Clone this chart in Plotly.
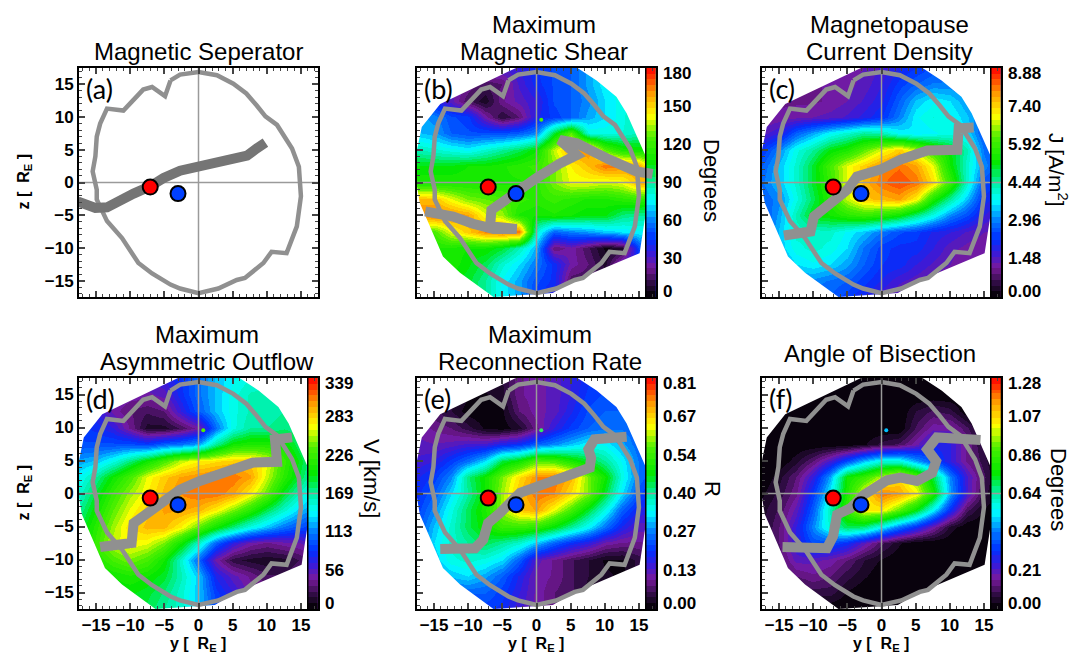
import numpy as np
import plotly.graph_objects as go

W, H = 1074, 656
grid_y = [-17.5,-15,-12.5,-10,-7.5,-5,-2.5,0,2.5,5,7.5,10,12.5,15,17.5]
grid_z_desc = [17.5,15,12.5,10,7.5,5,2.5,0,-2.5,-5,-7.5,-10,-12.5,-15,-17.5]

# Values, percent of each colour bar's full scale, rows top to bottom
shear_pct = [
[18,18,18,18,18,18,20,25,28,30,36,42,46,48,48],
[22,20,16,12,8,10,18,24,28,30,36,42,46,48,48],
[30,22,16,8,3,12,16,20,28,30,34,40,44,48,48],
[36,34,28,26,14,5,10,22,26,30,36,40,44,50,50],
[38,36,30,28,28,28,30,34,56,70,45,44,45,48,52],
[48,46,44,42,46,50,54,60,76,88,90,70,62,60,58],
[58,58,58,60,60,62,64,66,72,80,85,92,90,88,70],
[62,62,62,62,62,62,62,64,72,78,78,76,78,86,90],
[86,85,78,72,70,68,66,64,66,64,62,62,64,66,60],
[90,92,90,88,78,74,62,60,62,60,58,58,52,50,50],
[70,68,78,84,90,92,92,45,30,33,35,38,40,42,40],
[62,62,62,60,60,56,48,36,10,14,8,2,4,28,28],
[60,60,62,58,54,46,40,32,24,14,10,4,18,22,25],
[60,60,58,56,50,42,36,28,24,8,8,8,18,22,25],
[60,60,58,56,50,42,36,26,20,16,16,14,14,20,25]]
current_pct = [
[12,12,12,12,12,14,15,18,22,25,28,30,30,30,30],
[12,12,12,12,13,14,16,20,26,30,33,33,30,28,28],
[12,12,12,12,13,15,18,22,30,38,42,40,35,28,25],
[12,13,14,15,16,18,21,25,33,42,45,43,38,30,25],
[16,20,30,36,42,46,50,48,42,40,42,44,40,28,25],
[25,34,44,50,58,62,70,78,84,76,66,58,48,32,26],
[30,38,46,56,68,78,84,90,92,88,78,60,46,34,27],
[32,38,46,56,66,78,86,92,95,92,82,66,46,28,24],
[30,34,44,54,64,76,84,86,88,80,62,50,38,24,20],
[28,36,48,58,60,64,66,64,60,52,44,34,28,20,16],
[28,38,46,46,46,42,38,32,28,26,22,20,17,15,14],
[28,38,44,46,44,40,32,26,24,24,20,16,14,13,12],
[28,34,40,42,40,36,30,25,24,20,17,15,13,12,12],
[28,30,34,34,32,30,26,22,18,16,14,12,12,12,12],
[28,28,30,30,30,26,22,18,15,13,12,12,12,12,12]]
outflow_pct = [
[18,18,18,18,18,20,25,32,38,42,45,48,50,50,50],
[18,18,16,14,14,16,24,32,38,44,48,48,50,50,50],
[22,20,14,10,8,10,20,30,38,44,48,48,50,50,50],
[26,24,20,12,4,4,8,14,32,44,50,50,52,50,46],
[28,28,28,28,26,30,32,36,50,60,62,62,60,52,46],
[36,38,44,52,60,68,76,80,82,84,84,78,66,56,46],
[42,50,60,68,78,84,88,90,92,92,88,76,64,54,44],
[46,56,66,74,80,86,90,92,92,88,80,70,56,46,38],
[50,60,70,78,84,88,88,86,80,72,64,54,46,38,32],
[54,64,74,82,86,86,80,70,60,52,44,38,32,28,24],
[56,66,76,80,78,72,60,46,30,20,14,12,14,15,20],
[56,62,68,72,68,60,46,30,14,6,4,3,4,8,14],
[56,58,60,62,60,56,48,38,22,16,12,8,8,12,14],
[56,56,58,58,56,52,46,38,26,20,14,12,12,12,14],
[56,56,56,56,54,50,46,38,28,22,16,14,14,14,14]]
rate_pct = [
[5,5,5,5,5,5,12,14,16,20,24,26,28,28,28],
[5,5,5,3,2,4,12,14,16,20,26,28,28,28,28],
[10,8,5,1,0,2,10,14,16,22,28,30,30,30,28],
[14,12,10,6,2,1,4,12,20,26,30,32,32,30,28],
[16,15,16,18,18,22,24,30,34,38,42,42,36,30,28],
[18,20,26,32,40,55,60,70,68,62,56,50,42,32,26],
[22,26,34,52,60,72,82,90,92,86,72,60,44,32,26],
[24,30,40,50,60,74,85,92,90,82,72,56,40,28,22],
[26,34,44,54,62,74,84,88,78,68,56,44,30,22,20],
[28,38,46,54,60,66,66,64,58,50,42,32,22,16,16],
[30,40,46,50,54,50,46,38,30,24,20,14,12,12,14],
[30,38,44,46,44,40,30,16,12,8,5,2,2,6,10],
[30,34,38,40,36,30,22,14,12,8,5,3,2,6,8],
[28,30,30,30,30,26,20,14,10,8,4,3,2,5,5],
[28,28,28,28,26,24,18,14,10,6,4,4,4,5,5]]
bisection_pct = [
[0,0,0,0,0,0,0,0,0,0,0,0,0,0,0],
[0,0,0,0,0,0,0,0,0,0,0,0,0,0,0],
[0,0,0,0,0,0,0,0,0,5,8,6,0,0,0],
[0,0,0,0,0,0,0,0,0,8,14,14,8,0,0],
[0,0,0,0,0,0,2,6,8,14,22,20,12,4,0],
[0,0,4,10,18,28,38,45,45,36,28,20,12,6,0],
[0,4,10,20,36,60,66,76,82,72,55,34,18,8,0],
[2,6,12,26,42,62,80,92,88,80,62,36,18,6,0],
[4,8,16,30,48,66,80,80,70,58,42,24,8,2,0],
[4,10,20,34,46,54,52,42,32,24,14,4,0,0,0],
[4,10,20,28,28,24,16,8,3,0,0,0,0,0,0],
[2,8,16,16,14,10,5,2,0,0,0,0,0,0,0],
[0,4,10,12,10,6,3,0,0,0,0,0,0,0,0],
[0,2,4,6,6,2,0,0,0,0,0,0,0,0,0],
[0,0,0,0,0,0,0,0,0,0,0,0,0,0,0]]

hull_y = [-3,6,8.8,11.7,13.2,16,16,16,15.1,4.9,2.4,-6.3,-11.2,-13.7,-17.1,-17.5,-17.5,-16.8,-14.1,-3]
hull_z = [17.5,17.5,15.6,13.1,10.6,4,-0.6,-4.7,-10.8,-15.3,-16.9,-17.5,-13.8,-11.3,-3.1,-0.6,5,8.5,12,17.5]

outline_y = [-4.1,-2.7,0,2.7,5.1,7,8.5,9.8,11.5,13.7,14.7,15,14.4,12.9,10.7,9.5,6.8,5.6,2.9,0,-2.7,-4.1,-6.8,-8.8,-11.2,-13.4,-14.9,-14.9,-15.5,-15.1,-14.9,-14.4,-13.4,-11,-8.1,-6.8,-4.9,-4.1]
outline_z = [15.6,16.5,16.9,16.4,15.1,13.6,11.8,10.1,8.8,5.2,2.4,-2.1,-6.7,-10.8,-10.6,-12.3,-14.6,-14.9,-16.2,-16.9,-16.2,-15.6,-13.9,-12.3,-8.5,-5.9,-2.6,-1.1,1.7,4,7,9,11.3,11,14.2,14.6,13.2,15.6]

sep_a_y = [-17.7,-16.2,-15.1,-13.4,-11.5,-9.5,-7.1,-5.1,-2.7,0,2.7,5.1,7.1,8.5,9.8]
sep_a_z = [-2.9,-3.6,-3.9,-3.8,-2.6,-1.7,-0.6,0.7,1.8,2.4,3.1,3.5,4.1,5.2,6.1]
sep_b_y = [-16.3,-12.2,-9.3,-6.3,-2.9,-6.8,-6.6,-3.9,0,3.4,5.9,3.4,5.9,10.7,14.6,17]
sep_b_z = [-4.4,-5.2,-6.3,-7.1,-7.1,-6.7,-4.2,-2.1,0.7,2.9,4.2,6.5,6,3.5,1.7,1.3]
sep_c_y = [-14.3,-10.4,-9.9,-8,-5,-3.6,-0.1,2.8,6.7,11.1,11.3,13.5]
sep_c_z = [-8.1,-7.5,-5.2,-3.7,-1.1,0.9,2,3.5,4.9,5,8.3,8.4]
sep_d_y = [-14.4,-9.8,-9.5,-7.1,-4.6,-2.7,0.2,4.1,8,11.5,11.2,13.7]
sep_d_z = [-8.1,-7.5,-4.5,-2.7,-0.9,0.6,1.9,3.4,4.7,4.8,8.2,8.5]
sep_e_y = [-14.1,-9,-7.8,-7.1,-5.4,-2.4,0.5,4.4,7.8,8,7.6,8.5,13.2]
sep_e_z = [-8.4,-8.3,-7,-4.5,-3,0.1,1.2,2.6,3.9,5.4,6.7,8.2,8.6]
sep_f_y = [-14.5,-8,-7.1,-6.5,-4.5,-2.6,0.8,2.8,5.2,7.4,8,6.7,8.1,14.5]
sep_f_z = [-8.1,-8.3,-6.5,-3.2,-2.2,-0.2,2,2.4,1.9,3.1,4.9,6.7,8.5,8.1]

red_point = (-7.07, -0.7)
blue_point = (-3.0, -1.7)
spot_point = (0.7, 9.6)

labels_b = ["180","150","120","90","60","30","0"]
labels_c = ["8.88","7.40","5.92","4.44","2.96","1.48","0.00"]
labels_d = ["339","283","226","169","113","56","0"]
labels_e = ["0.81","0.67","0.54","0.40","0.27","0.13","0.00"]
labels_f = ["1.28","1.07","0.86","0.64","0.43","0.21","0.00"]
label_frac = [0.022,0.167,0.335,0.5,0.665,0.833,0.978]

anchors = [(0,"#000000"),(0.06,"#2c0c40"),(0.13,"#781a9c"),(0.19,"#3a1ad8"),(0.25,"#0030ff"),
           (0.33,"#0078ff"),(0.42,"#00ffff"),(0.50,"#00f0a0"),(0.58,"#00e800"),(0.70,"#50f000"),
           (0.79,"#ffff00"),(0.89,"#ff9900"),(1.0,"#ff0000")]
def rgb(h): return [int(h[i:i+2],16) for i in (1,3,5)]
pos = [a[0] for a in anchors]
cols = np.array([rgb(a[1]) for a in anchors],float)
def stepped(n=40):
    out=[]
    for i in range(n):
        m=(i+.5)/n
        c=[int(round(np.interp(m,pos,cols[:,k]))) for k in range(3)]
        s=f"rgb({c[0]},{c[1]},{c[2]})"
        out += [[i/n,s],[(i+1)/n,s]]
    return out
CS = stepped()

BOLD = dict(family="Liberation Sans", size=17, color="black", weight=700)
GRAY = "#909090"
boxes = {"a":(79,68,297),"b":(417,68,297),"c":(762,68,297),"d":(79,378,609),"e":(417,378,609),"f":(762,378,609)}
PW = 239

panels = [
 dict(k="a",data=None,zmax=None,labels=None,sep=(sep_a_y,sep_a_z),sepc="#757575",spot=None),
 dict(k="b",data=shear_pct,zmax=180,labels=labels_b,sep=(sep_b_y,sep_b_z),sepc=GRAY,spot="#50f000"),
 dict(k="c",data=current_pct,zmax=8.88,labels=labels_c,sep=(sep_c_y,sep_c_z),sepc=GRAY,spot=None),
 dict(k="d",data=outflow_pct,zmax=339,labels=labels_d,sep=(sep_d_y,sep_d_z),sepc=GRAY,spot="#50f000"),
 dict(k="e",data=rate_pct,zmax=0.81,labels=labels_e,sep=(sep_e_y,sep_e_z),sepc=GRAY,spot="#30f060"),
 dict(k="f",data=bisection_pct,zmax=1.28,labels=labels_f,sep=(sep_f_y,sep_f_z),sepc=GRAY,spot="#00c0ff"),
]

fig = go.Figure()
ann, shp = [], []
layout = {}
px = lambda v: v/W
py = lambda v: 1-v/H
def text(x,y,t,size=24,rot=0,xa="center",ya="middle",font="Liberation Sans",weight=400):
    ann.append(dict(x=px(x),y=py(y),xref="paper",yref="paper",text=t,showarrow=False,xanchor=xa,yanchor=ya,
                    textangle=rot,font=dict(family=font,size=size,color="black",weight=weight)))

for i,p in enumerate(panels):
    n=i+1; k=p["k"]; L,T,B=boxes[k]
    xa=f"x{n}"; ya=f"y{n}"
    if p["data"] is not None:
        arr=np.array(p["data"],float)[::-1]/100*p["zmax"]
        fig.add_trace(go.Heatmap(x=grid_y,y=grid_z_desc[::-1],z=arr,zmin=0,zmax=p["zmax"],colorscale=CS,
                                 zsmooth="best",showscale=False,xaxis=xa,yaxis=ya,hoverinfo="skip"))
        levels=np.linspace(0,p["zmax"],121)
        edges=np.linspace(-17.5,17.5,121)
        fig.add_trace(go.Heatmap(x=[16,17.5],y=edges,z=[[v] for v in levels[:-1]],zmin=0,zmax=p["zmax"],
                                 colorscale=CS,showscale=False,xaxis=xa,yaxis=ya,hoverinfo="skip"))
        mask_y=[-18,-18,16,16,-18,None]+hull_y
        mask_z=[18,-18,-18,18,18,None]+hull_z
        fig.add_trace(go.Scatter(x=mask_y,y=mask_z,mode="lines",line=dict(width=0),fill="toself",
                                 fillcolor="white",xaxis=xa,yaxis=ya,hoverinfo="skip",showlegend=False))
        shp.append(dict(type="line",xref=xa,yref=ya,x0=16,x1=16,y0=-17.5,y1=17.5,line=dict(color="black",width=1.5)))
        lx = L+PW+5
        for fr,lab in zip(label_frac,p["labels"]):
            text(lx,T+(B-T)*fr,lab,size=17,xa="left",weight=700)
    if p["spot"]:
        fig.add_trace(go.Scatter(x=[spot_point[0]],y=[spot_point[1]],mode="markers",
                                 marker=dict(size=4,color=p["spot"]),xaxis=xa,yaxis=ya,hoverinfo="skip",showlegend=False))
    for xs,ys in (([-17.5,17.5],[0,0]),([0,0],[-17.5,17.5])):
        fig.add_trace(go.Scatter(x=xs,y=ys,mode="lines",line=dict(color="#9a9a9a",width=1.5),xaxis=xa,yaxis=ya,
                                 hoverinfo="skip",showlegend=False))
    fig.add_trace(go.Scatter(x=outline_y,y=outline_z,mode="lines",line=dict(color=GRAY,width=4.5),xaxis=xa,yaxis=ya,
                             hoverinfo="skip",showlegend=False))
    fig.add_trace(go.Scatter(x=p["sep"][0],y=p["sep"][1],mode="lines",line=dict(color=p["sepc"],width=10),xaxis=xa,yaxis=ya,
                             hoverinfo="skip",showlegend=False))
    fig.add_trace(go.Scatter(x=[red_point[0],blue_point[0]],y=[red_point[1],blue_point[1]],mode="markers",
                             marker=dict(size=15,color=["#ff0000","#0040ff"],line=dict(color="black",width=2)),
                             xaxis=xa,yaxis=ya,hoverinfo="skip",showlegend=False))
    common=dict(range=[-17.5,17.5],tickmode="array",tickvals=[-15,-10,-5,0,5,10,15],ticks="inside",ticklen=6,tickwidth=1.5,
                showgrid=False,zeroline=False,showline=True,linecolor="black",linewidth=2,tickfont=BOLD,
                minor=dict(ticks="inside",ticklen=3,tickwidth=1,tickmode="array",
                           tickvals=[v for v in range(-17,18) if v%5]))
    layout[f"xaxis{n}"]=dict(common,domain=[px(L),px(L+PW)],anchor=ya,mirror="ticks",showticklabels=T>300)
    layout[f"yaxis{n}"]=dict(common,domain=[py(B),py(T)],anchor=xa,mirror="ticks" if k=="a" else True,showticklabels=L<100)
    text(L+5,T+20,f"({k})",size=27,xa="left",font="Lato")
    if T>300:
        text(L+119,B+35,"y [  R<sub>E</sub> ]",size=16,weight=700)
    if L<100:
        text(24,(T+B)/2,"z [  R<sub>E</sub> ]",size=16,rot=-90,weight=700)

text(198,52,"Magnetic Seperator")
text(544,24,"Maximum"); text(544,52,"Magnetic Shear")
text(889,24,"Magnetopause"); text(889,52,"Current Density")
text(207,334,"Maximum"); text(207,361,"Asymmetric Outflow")
text(540,334,"Maximum"); text(540,361,"Reconnection Rate")
text(880,353,"Angle of Bisection")
text(712,180,"Degrees",size=22,rot=90)
text(1058,170,"J [A/m<sup>2</sup>]",size=21,rot=90)
text(372,478,"V [km/s]",size=22,rot=90)
text(713,489,"R",size=22,rot=90)
text(1059,489,"Degrees",size=22,rot=90)

fig.update_layout(width=W,height=H,autosize=False,margin=dict(l=0,r=0,t=0,b=0),paper_bgcolor="white",plot_bgcolor="white",
                  showlegend=False,annotations=ann,shapes=shp,**layout)
fig.write_html("out.html",config={"displayModeBar":False},post_script="document.body.style.margin='0';")
